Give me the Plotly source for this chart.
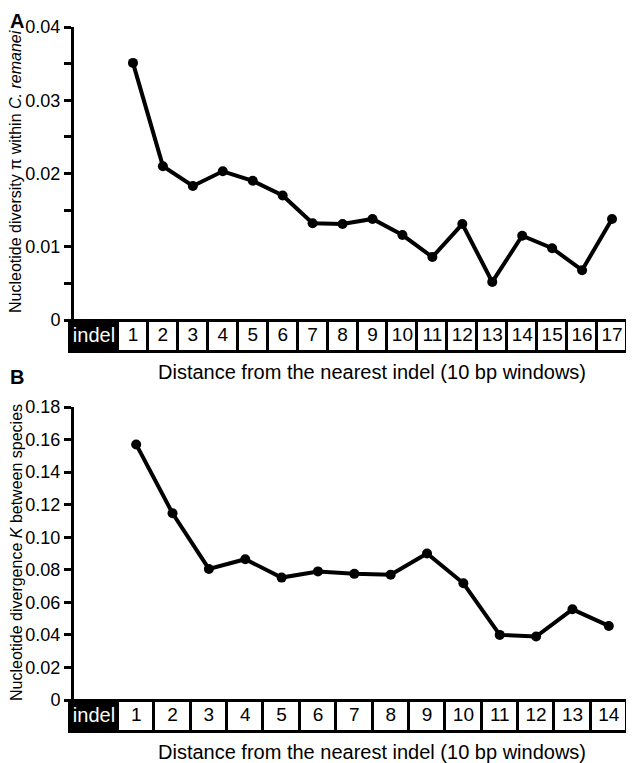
import plotly.graph_objects as go

W, H = 634, 763
OFF = 8  # the page body adds an 8 px margin around the plot div
FONT = "Liberation Sans, Arial, Helvetica, sans-serif"

# Panel A: nucleotide diversity within C. remanei
A_WINDOWS = ["1", "2", "3", "4", "5", "6", "7", "8", "9", "10",
             "11", "12", "13", "14", "15", "16", "17"]
A_PI = [0.0351, 0.0210, 0.0183, 0.0203, 0.0190, 0.0170, 0.0132, 0.0131,
        0.0138, 0.0116, 0.0086, 0.0131, 0.0052, 0.0115, 0.0098, 0.0068, 0.0138]
A_YTICKS = [0, 0.01, 0.02, 0.03, 0.04]

# Panel B: divergence between species
B_WINDOWS = ["1", "2", "3", "4", "5", "6", "7", "8", "9", "10",
             "11", "12", "13", "14"]
B_K = [0.157, 0.1147, 0.0805, 0.0865, 0.0752, 0.0790, 0.0775, 0.0770,
       0.0900, 0.0717, 0.0400, 0.0390, 0.0557, 0.0455]
B_YTICKS = [0, 0.02, 0.04, 0.06, 0.08, 0.10, 0.12, 0.14, 0.16, 0.18]

INDEL_LABEL = "indel"
X_TITLE = "Distance from the nearest indel (10 bp windows)"

FIG_W, FIG_H = W - OFF, H - OFF


def py(px):
    """Page pixel row -> paper y."""
    return 1 - (px - OFF) / FIG_H


def px_(px):
    """Page pixel column -> paper x."""
    return (px - OFF) / FIG_W


def add_panel(fig, idx, windows, values, yticks, ytitle, label, top, zero,
              minor, title_mid):
    n = len(windows)
    # horizontal pixel layout of the box strip
    box_left, indel_right, box_right = 70, 118, 627
    unit = (box_right - indel_right) / n
    indel_w = (indel_right - box_left) / unit

    def data_x(px):
        return 0.5 + (px - indel_right) / unit

    xm, ym = f"x{2 * idx - 1}", f"y{2 * idx - 1}"
    xs, ys = f"x{2 * idx}", f"y{2 * idx}"
    xm_key, ym_key = f"xaxis{2 * idx - 1}", f"yaxis{2 * idx - 1}"
    xs_key, ys_key = f"xaxis{2 * idx}", f"yaxis{2 * idx}"

    positions = list(range(1, n + 1))

    fig.add_trace(
        go.Scatter(
            x=positions,
            y=values,
            mode="lines+markers",
            line=dict(color="black", width=4),
            marker=dict(color="black", size=10),
            cliponaxis=False,
            xaxis=xm,
            yaxis=ym,
        )
    )

    # box strip under the x axis
    fig.add_trace(
        go.Bar(
            x=[0.5 - indel_w / 2] + positions,
            y=[1] * (n + 1),
            width=[indel_w] + [1] * n,
            marker=dict(color=["black"] + ["white"] * n,
                        line=dict(color="black", width=3)),
            xaxis=xs,
            yaxis=ys,
        )
    )
    fig.add_trace(
        go.Scatter(
            x=[0.5 - indel_w / 2] + positions,
            y=[0.5] * (n + 1),
            mode="text",
            text=[INDEL_LABEL] + windows,
            textposition="middle center",
            textfont=dict(size=[20] + [19] * n,
                          color=["white"] + ["black"] * n, family=FONT),
            xaxis=xs,
            yaxis=ys,
        )
    )

    main_left = 74
    strip_top, strip_bottom = zero + 1, zero + 32
    ticktext = ["0" if v == 0 else f"{v:.2f}" for v in yticks]

    fig.layout[xm_key] = dict(
        domain=[px_(main_left), px_(box_right)],
        range=[data_x(main_left), data_x(box_right)],
        visible=False,
        automargin=False,
        anchor=ym,
    )
    fig.layout[ym_key] = dict(
        domain=[py(zero), py(top)],
        range=[0, yticks[-1]],
        anchor=xm,
        automargin=False,
        showline=True,
        linewidth=3,
        linecolor="black",
        ticks="outside",
        ticklen=7,
        tickwidth=3,
        tickcolor="black",
        tickvals=yticks,
        ticktext=ticktext,
        tickfont=dict(size=18, color="black", family=FONT),
        showgrid=False,
        zeroline=False,
        minor=dict(ticks="outside", ticklen=7, tickwidth=3, tickcolor="black",
                   dtick=minor, showgrid=False) if minor else None,
    )
    fig.layout[xs_key] = dict(
        domain=[px_(box_left - 2), px_(box_right + 2)],
        range=[data_x(box_left - 2), data_x(box_right + 2)],
        visible=False,
        automargin=False,
        anchor=ys,
    )
    pad = 2 / (strip_bottom - strip_top)
    fig.layout[ys_key] = dict(
        domain=[py(strip_bottom + 2), py(strip_top - 2)],
        range=[-pad, 1 + pad],
        visible=False,
        automargin=False,
        anchor=xs,
    )

    fig.add_annotation(
        text=ytitle, textangle=-90, showarrow=False,
        xref="paper", yref="paper",
        x=px_(16), y=py(title_mid),
        xanchor="center", yanchor="middle",
        font=dict(size=16, color="black", family=FONT),
    )
    fig.add_annotation(
        text=X_TITLE, showarrow=False,
        xref="paper", yref="paper",
        x=px_(372), y=py(zero + 52),
        xanchor="center", yanchor="middle",
        font=dict(size=20, color="black", family=FONT),
    )
    fig.add_annotation(
        text=f"<b>{label}</b>", showarrow=False,
        xref="paper", yref="paper",
        x=0, y=min(1, py(top - 43)),
        xanchor="left", yanchor="top",
        font=dict(size=20, color="black", family=FONT),
    )


fig = go.Figure()

add_panel(fig, 1, A_WINDOWS, A_PI, A_YTICKS,
          "Nucleotide diversity π within <i>C. remanei</i>", "A",
          top=27, zero=320, minor=0.005, title_mid=172)
add_panel(fig, 2, B_WINDOWS, B_K, B_YTICKS,
          "Nucleotide divergence <i>K</i> between species", "B",
          top=407, zero=700, minor=None, title_mid=553)

fig.update_layout(
    width=FIG_W,
    height=FIG_H,
    autosize=False,
    margin=dict(l=0, r=0, t=0, b=0, pad=0),
    showlegend=False,
    plot_bgcolor="white",
    paper_bgcolor="white",
    bargap=0,
    font=dict(family=FONT, color="black"),
)

fig.write_html("out.html")
